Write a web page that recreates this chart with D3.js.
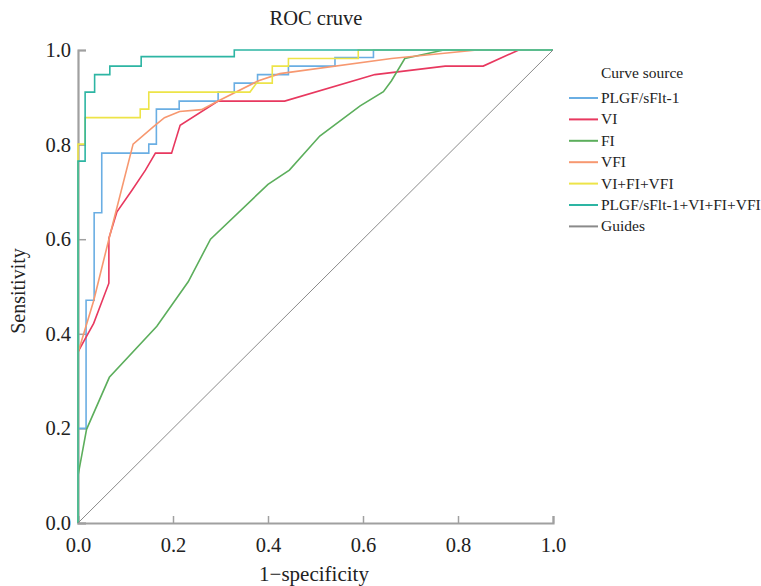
<!DOCTYPE html>
<html>
<head>
<meta charset="utf-8">
<script src="https://cdn.jsdelivr.net/npm/d3@7"></script>
<style>
  body { margin: 0; background: #fff; }
  text { font-family: "Liberation Serif", "Times New Roman", serif; fill: #222; }
</style>
</head>
<body>
<div id="chart"></div>
<script>
// ROC points: [1-specificity, sensitivity]
const plgf = [[0,0],[0,0.2],[0.017,0.2],[0.017,0.471],[0.034,0.471],[0.034,0.656],[0.05,0.656],[0.05,0.782],
  [0.149,0.782],[0.149,0.801],[0.165,0.801],[0.165,0.875],[0.213,0.875],[0.213,0.892],[0.295,0.892],[0.295,0.911],
  [0.329,0.911],[0.329,0.93],[0.378,0.93],[0.378,0.948],[0.443,0.948],[0.443,0.966],[0.541,0.966],[0.541,0.984],
  [0.622,0.984],[0.622,1],[1,1]];
const vi = [[0,0],[0,0.362],[0.033,0.422],[0.065,0.507],[0.065,0.602],[0.082,0.658],[0.114,0.704],[0.142,0.746],
  [0.163,0.782],[0.197,0.782],[0.215,0.841],[0.295,0.892],[0.435,0.892],[0.625,0.948],[0.773,0.966],[0.853,0.966],
  [0.928,1],[1,1]];
const fi = [[0,0],[0,0.1],[0.018,0.198],[0.066,0.308],[0.166,0.416],[0.232,0.51],[0.279,0.6],[0.4,0.716],
  [0.445,0.746],[0.509,0.818],[0.594,0.882],[0.643,0.912],[0.66,0.935],[0.688,0.982],[0.77,1],[1,1]];
const vfi = [[0,0],[0,0.36],[0.033,0.47],[0.065,0.6],[0.116,0.801],[0.159,0.838],[0.182,0.857],[0.214,0.87],
  [0.26,0.874],[0.295,0.892],[0.38,0.935],[0.425,0.95],[0.66,0.982],[0.84,1],[1,1]];
const combo3 = [[0,0],[0,0.801],[0.015,0.801],[0.015,0.857],[0.131,0.857],[0.131,0.875],[0.149,0.875],[0.149,0.911],
  [0.362,0.911],[0.376,0.93],[0.409,0.93],[0.409,0.966],[0.443,0.966],[0.443,0.982],[0.59,0.982],[0.59,1],[1,1]];
const comboAll = [[0,0],[0,0.765],[0.015,0.765],[0.015,0.911],[0.035,0.911],[0.035,0.948],[0.067,0.948],[0.067,0.966],
  [0.133,0.966],[0.133,0.986],[0.329,0.986],[0.329,1],[1,1]];
const guides = [[0,0],[1,1]];

const seriesNames = ["PLGF/sFlt-1", "VI", "FI", "VFI", "VI+FI+VFI", "PLGF/sFlt-1+VI+FI+VFI", "Guides"];
const seriesData = [plgf, vi, fi, vfi, combo3, comboAll, guides];
const colors = ["#6aaee3", "#e8385f", "#5cae5c", "#f79870", "#ede448", "#2db5a3", "#8a8a8a"];
const ticks = [0, 0.2, 0.4, 0.6, 0.8, 1.0];

const width = 761, height = 586;
const svg = d3.select('#chart').append('svg')
    .attr('width', width)
    .attr('height', height);

const x = d3.scaleLinear().domain([0, 1]).range([78, 553]);
const y = d3.scaleLinear().domain([0, 1]).range([523, 50]);

// axes (ticks point inward)
const xAxis = svg.append("g")
    .attr("transform", "translate(0," + y(0) + ")")
    .call(d3.axisBottom(x).tickValues(ticks).tickSize(-7).tickFormat(d3.format(".1f")));
const yAxis = svg.append("g")
    .attr("transform", "translate(" + x(0) + ",0)")
    .call(d3.axisLeft(y).tickValues(ticks).tickSize(-8).tickFormat(d3.format(".1f")));

[xAxis, yAxis].forEach(function(a) {
    a.select(".domain").attr("stroke", "#a0a0a0").attr("stroke-width", 2.2);
    a.selectAll(".tick line").attr("stroke", "#a0a0a0").attr("stroke-width", 1.5);
    a.selectAll("text").style("font-size", "20.5px")
        .style("font-family", "'Liberation Serif', serif").attr("fill", "#222");
});
xAxis.selectAll("text").attr("y", 14);
yAxis.selectAll("text").attr("x", -7);

// curves
const line = d3.line().x(function(d) { return x(d[0]); }).y(function(d) { return y(d[1]); });
svg.append("g")
    .selectAll("path")
    .data(seriesData)
    .enter().append("path")
    .attr("d", line)
    .attr("fill", "none")
    .attr("stroke", function(d, i) { return colors[i]; })
    .attr("stroke-width", function(d, i) { return i === 6 ? 1 : 1.6; });

// title and axis labels
svg.append("text").attr("x", 316).attr("y", 25).attr("text-anchor", "middle")
    .style("font-size", "20.5px").text("ROC cruve");
svg.append("text").attr("x", 314).attr("y", 581).attr("text-anchor", "middle")
    .style("font-size", "21px").text("1−specificity");
svg.append("text").attr("transform", "translate(25,291) rotate(-90)").attr("text-anchor", "middle")
    .style("font-size", "20px").text("Sensitivity");

// legend
const legend = svg.append("g");
legend.append("text").attr("x", 601).attr("y", 78).style("font-size", "15.5px").text("Curve source");
const item = legend.selectAll("g.item")
    .data(seriesNames)
    .enter().append("g")
    .attr("class", "item")
    .attr("transform", function(d, i) { return "translate(0," + (98 + i * 21.4) + ")"; });
item.append("line")
    .attr("x1", 569).attr("x2", 598)
    .attr("stroke", function(d, i) { return colors[i]; })
    .attr("stroke-width", 2);
item.append("text")
    .attr("x", 601).attr("y", 5)
    .style("font-size", "15.5px")
    .text(function(d) { return d; });
</script>
</body>
</html>
